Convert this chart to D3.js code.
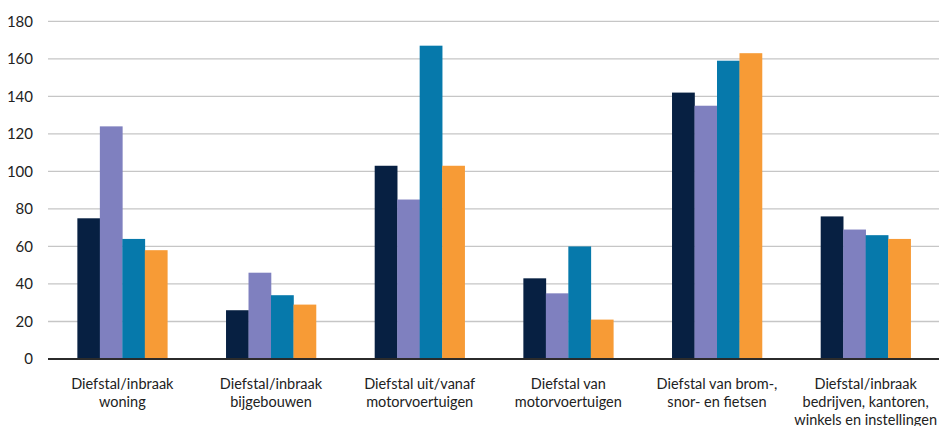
<!DOCTYPE html>
<html>
<head>
<meta charset="utf-8">
<script src="https://cdn.jsdelivr.net/npm/d3@7"></script>
<style>
  body { margin: 0; background: #fff; }
  text { font-family: Lato, "Open Sans", sans-serif; }
</style>
</head>
<body>
<div id="chart"></div>
<script>
// categories (multi-line labels)
const categories = [
  ["Diefstal/inbraak", "woning"],
  ["Diefstal/inbraak", "bijgebouwen"],
  ["Diefstal uit/vanaf", "motorvoertuigen"],
  ["Diefstal van", "motorvoertuigen"],
  ["Diefstal van brom-,", "snor- en fietsen"],
  ["Diefstal/inbraak", "bedrijven, kantoren,", "winkels en instellingen"]
];
const seriesKeys = ["s1", "s2", "s3", "s4"];
const series1 = [75, 26, 103, 43, 142, 76];
const series2 = [124, 46, 85, 35, 135, 69];
const series3 = [64, 34, 167, 60, 159, 66];
const series4 = [58, 29, 103, 21, 163, 64];
const yTicks = [0, 20, 40, 60, 80, 100, 120, 140, 160, 180];
const colors = ["#072042", "#7f80bf", "#0679ab", "#f79b36"];

const data = categories.map((c, i) => ({
  label: c, idx: i,
  values: [series1[i], series2[i], series3[i], series4[i]]
}));

const width = 939, height = 426;
const svg = d3.select("#chart").append("svg")
  .attr("width", width).attr("height", height);

const x0 = d3.scaleBand()
  .domain(d3.range(categories.length))
  .range([48, 940])
  .paddingInner(0.395)
  .paddingOuter(0.1975);

const x1 = d3.scaleBand()
  .domain(d3.range(seriesKeys.length))
  .range([0, x0.bandwidth()]);

const y = d3.scaleLinear().domain([0, 180]).range([359, 21.3]);

// gridlines
svg.append("g").selectAll("line")
  .data(yTicks.filter(t => t > 0))
  .enter().append("line")
  .attr("x1", 48).attr("x2", width)
  .attr("y1", d => y(d)).attr("y2", d => y(d))
  .attr("stroke", "#c6c6c6").attr("stroke-width", 1.3);

// y tick labels
svg.append("g").selectAll("text")
  .data(yTicks)
  .enter().append("text")
  .attr("x", 33).attr("y", d => y(d))
  .attr("dy", "0.35em")
  .attr("text-anchor", "end")
  .attr("font-size", 15)
  .attr("fill", "#222")
  .text(d => d);

// bars
const groups = svg.append("g").selectAll("g")
  .data(data)
  .enter().append("g")
  .attr("transform", d => `translate(${x0(d.idx)},0)`);

groups.selectAll("rect")
  .data(d => d.values.map((v, k) => ({ v, k })))
  .enter().append("rect")
  .attr("x", d => x1(d.k))
  .attr("width", x1.bandwidth() + 0.3)
  .attr("y", d => y(d.v))
  .attr("height", d => y(0) - y(d.v))
  .attr("fill", d => colors[d.k]);

// baseline
svg.append("line")
  .attr("x1", 48).attr("x2", width)
  .attr("y1", y(0)).attr("y2", y(0))
  .attr("stroke", "#2b2b2b").attr("stroke-width", 2);

// x labels
const lab = svg.append("g").selectAll("text")
  .data(data)
  .enter().append("text")
  .attr("x", d => x0(d.idx) + x0.bandwidth() / 2)
  .attr("text-anchor", "middle")
  .attr("font-size", 14.5)
  .attr("fill", "#222");

lab.selectAll("tspan")
  .data(d => d.label.map(l => ({ l, cx: x0(d.idx) + x0.bandwidth() / 2 })))
  .enter().append("tspan")
  .attr("x", d => d.cx)
  .attr("y", (d, i) => 389 + i * 18)
  .text(d => d.l);
</script>
</body>
</html>
